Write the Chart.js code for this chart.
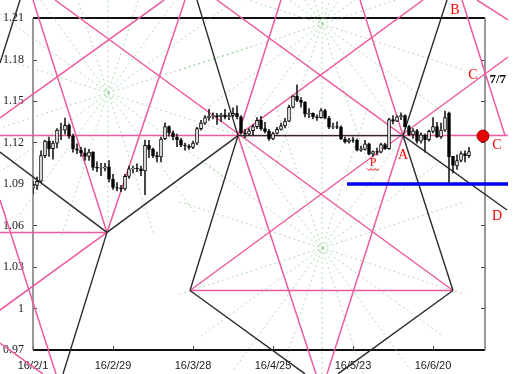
<!DOCTYPE html>
<html>
<head>
<meta charset="utf-8">
<script src="https://cdn.jsdelivr.net/npm/chart.js@4.4.1/dist/chart.umd.min.js"></script>
<style>
  html, body { margin: 0; padding: 0; background: #fff; }
</style>
</head>
<body>
<canvas id="canvas" width="515" height="374"></canvas>
<script>
const canvas = document.getElementById("canvas").getContext("2d");

// x axis = trading day index (16/2/1 = 0)
const tickIdx = [0, 20, 40, 60, 80, 100];
const tickDates = ["16/2/1", "16/2/29", "16/3/28", "16/4/25", "16/5/23", "16/6/20"];
const yTicks = [0.97, 1, 1.03, 1.06, 1.09, 1.12, 1.15, 1.18, 1.21];
const yTickText = ["0.97", "1", "1.03", "1.06", "1.09", "1.12", "1.15", "1.18", "1.21"];

// daily candles
const open = [1.0870, 1.0890, 1.0920, 1.1105, 1.1210, 1.1155, 1.1195, 1.1290, 1.1290, 1.1325,
  1.1245, 1.1155, 1.1145, 1.1125, 1.1100, 1.1130, 1.1020, 1.1015, 1.1015, 1.1025,
  1.0935, 1.0875, 1.0870, 1.0865, 1.0955, 1.1010, 1.1015, 1.1010, 1.0995, 1.1180,
  1.1150, 1.1105, 1.1095, 1.1225, 1.1315, 1.1270, 1.1240, 1.1220, 1.1180, 1.1175,
  1.1165, 1.1195, 1.1300, 1.1340, 1.1380, 1.1390, 1.1395, 1.1385, 1.1400, 1.1385,
  1.1395, 1.1410, 1.1385, 1.1270, 1.1260, 1.1285, 1.1315, 1.1360, 1.1300, 1.1280,
  1.1225, 1.1265, 1.1295, 1.1320, 1.1355, 1.1455, 1.1535, 1.1505, 1.1490, 1.1405,
  1.1410, 1.1385, 1.1380, 1.1430, 1.1375, 1.1310, 1.1315, 1.1310, 1.1225, 1.1205,
  1.1220, 1.1215, 1.1145, 1.1150, 1.1190, 1.1115, 1.1135, 1.1130, 1.1185, 1.1155,
  1.1365, 1.1355, 1.1385, 1.1395, 1.1315, 1.1255, 1.1285, 1.1210, 1.1255, 1.1220,
  1.1280, 1.1315, 1.1240, 1.1290, 1.1410, 1.1100, 1.1030, 1.1070, 1.1120, 1.1105];
const high = [1.0920, 1.0950, 1.1140, 1.1215, 1.1240, 1.1210, 1.1300, 1.1340, 1.1376, 1.1335,
  1.1260, 1.1190, 1.1165, 1.1160, 1.1150, 1.1135, 1.1060, 1.1050, 1.1050, 1.1070,
  1.0970, 1.0910, 1.0890, 1.0970, 1.1030, 1.1030, 1.1045, 1.1030, 1.1218, 1.1215,
  1.1160, 1.1130, 1.1240, 1.1342, 1.1320, 1.1285, 1.1260, 1.1230, 1.1195, 1.1185,
  1.1210, 1.1310, 1.1360, 1.1395, 1.1440, 1.1415, 1.1410, 1.1410, 1.1440, 1.1415,
  1.1450, 1.1465, 1.1395, 1.1295, 1.1300, 1.1330, 1.1380, 1.1390, 1.1345, 1.1295,
  1.1275, 1.1310, 1.1340, 1.1375, 1.1470, 1.1540, 1.1616, 1.1525, 1.1495, 1.1445,
  1.1415, 1.1400, 1.1445, 1.1440, 1.1390, 1.1340, 1.1350, 1.1320, 1.1240, 1.1230,
  1.1240, 1.1225, 1.1175, 1.1215, 1.1195, 1.1140, 1.1160, 1.1195, 1.1195, 1.1375,
  1.1395, 1.1395, 1.1415, 1.1400, 1.1325, 1.1300, 1.1295, 1.1270, 1.1260, 1.1290,
  1.1380, 1.1345, 1.1340, 1.1428, 1.1420, 1.1100, 1.1110, 1.1135, 1.1140, 1.1165];
const low = [1.0830, 1.0860, 1.0910, 1.1090, 1.1100, 1.1080, 1.1160, 1.1220, 1.1260, 1.1230,
  1.1130, 1.1120, 1.1100, 1.1070, 1.1070, 1.1000, 1.0990, 1.0960, 1.0995, 1.0915,
  1.0860, 1.0850, 1.0845, 1.0855, 1.0940, 1.0980, 1.0990, 1.0960, 1.0822, 1.1090,
  1.1090, 1.1060, 1.1060, 1.1220, 1.1245, 1.1220, 1.1170, 1.1170, 1.1145, 1.1150,
  1.1155, 1.1185, 1.1290, 1.1330, 1.1360, 1.1370, 1.1330, 1.1350, 1.1370, 1.1365,
  1.1385, 1.1370, 1.1260, 1.1235, 1.1250, 1.1250, 1.1300, 1.1290, 1.1270, 1.1215,
  1.1220, 1.1260, 1.1290, 1.1305, 1.1350, 1.1450, 1.1495, 1.1455, 1.1385, 1.1380,
  1.1370, 1.1360, 1.1375, 1.1370, 1.1300, 1.1300, 1.1300, 1.1220, 1.1195, 1.1195,
  1.1200, 1.1140, 1.1135, 1.1145, 1.1110, 1.1100, 1.1110, 1.1125, 1.1150, 1.1150,
  1.1335, 1.1350, 1.1365, 1.1310, 1.1250, 1.1230, 1.1195, 1.1195, 1.1130, 1.1210,
  1.1270, 1.1235, 1.1230, 1.1280, 1.0912, 1.0980, 1.1005, 1.1060, 1.1060, 1.1090];
const close = [1.0890, 1.0920, 1.1105, 1.1210, 1.1155, 1.1195, 1.1290, 1.1294, 1.1325, 1.1245,
  1.1155, 1.1145, 1.1125, 1.1100, 1.1130, 1.1020, 1.1015, 1.1019, 1.1025, 1.0935,
  1.0875, 1.0870, 1.0865, 1.0955, 1.1010, 1.1015, 1.1010, 1.0995, 1.1180, 1.1150,
  1.1105, 1.1095, 1.1225, 1.1315, 1.1270, 1.1240, 1.1220, 1.1180, 1.1175, 1.1165,
  1.1195, 1.1300, 1.1340, 1.1380, 1.1390, 1.1395, 1.1385, 1.1400, 1.1385, 1.1395,
  1.1410, 1.1385, 1.1270, 1.1260, 1.1285, 1.1315, 1.1360, 1.1300, 1.1280, 1.1225,
  1.1265, 1.1295, 1.1320, 1.1355, 1.1455, 1.1535, 1.1505, 1.1490, 1.1405, 1.1410,
  1.1385, 1.1380, 1.1430, 1.1375, 1.1310, 1.1315, 1.1310, 1.1225, 1.1205, 1.1220,
  1.1215, 1.1145, 1.1150, 1.1190, 1.1115, 1.1135, 1.1130, 1.1185, 1.1155, 1.1365,
  1.1355, 1.1385, 1.1395, 1.1315, 1.1255, 1.1285, 1.1210, 1.1255, 1.1220, 1.1280,
  1.1315, 1.1240, 1.1290, 1.1380, 1.1095, 1.1035, 1.1070, 1.1120, 1.1105, 1.1135];

// drawn lines, [x1, y1, x2, y2] in (day index, price)
const blackLines = [
  [-8.25, 1.1131, 18.5, 1.055], [18.5, 1.055, 51.25, 1.125], [7.5, 0.9527, 18.5, 1.055],
  [41, 1.223, 51.25, 1.125], [51.25, 1.125, 92.5, 1.125], [39.25, 1.013, 51.25, 1.125],
  [39.25, 1.013, 68, 0.9527], [92.5, 1.125, 103.5, 1.223], [92.5, 1.125, 105, 1.013],
  [92.5, 1.125, 118.5, 1.0712], [76.25, 0.9527, 105, 1.013], [-8.25, 1.1775, -3.25, 1.223],
];
const pinkLines = [
  [-8.25, 1.125, 118.75, 1.125], [-8.25, 1.055, 18.5, 1.055], [39.25, 1.013, 105, 1.013],
  [0, 1.223, 18.5, 1.055], [18.5, 1.055, 38, 1.223], [-8.25, 0.9989, 18.5, 1.055],
  [51.25, 1.125, 97.5, 1.223], [-8.25, 1.1377, 32.75, 1.223], [5.5, 1.223, 105, 1.013],
  [39.25, 1.013, 118.75, 1.1818], [73.5, 0.9527, 92.5, 1.125], [81.75, 1.223, 92.5, 1.125],
  [51.25, 1.125, 62, 1.223], [51.25, 1.125, 70.75, 0.9527], [107.25, 1.223, 118, 1.125],
  [111, 1.223, 118.75, 1.2086], [46, 1.223, 92.5, 1.125], [-8.25, 1.0784, 5.75, 0.9527],
  [-8.25, 0.975, 2.5, 0.9527],
];
const blueLine = [78.5, 1.09, 118.75, 1.09];

// dotted "wheels": centres and spoke half-lengths (days, price)
const starCenters = [[18.75, 1.1558], [72.25, 1.2057], [72.25, 1.0437]];
const starSpokes = [[35.7, 0.0335], [30.3, 0.0638], [22, 0.0877], [11.6, 0.1031]];
const starVerticals = [[18.75, 1.055, 18.75, 1.223], [72.25, 0.9527, 72.25, 1.223]];

const redDot = [112.5, 1.1247];
const notes = [
  ["B", 105.5, 1.2158, "#f00", "14px"],
  ["C", 110, 1.1688, "#f00", "14px"],
  ["7/7", 116.2, 1.1652, "#000", "bold 13px"],
  ["C", 116, 1.1182, "#f00", "14px"],
  ["A", 92.5, 1.111, "#f00", "14px"],
  ["D", 116, 1.0668, "#f00", "14px"],
  ["P", 85, 1.1055, "#f00", "12px"],
];

const days = open.map((v, i) => i);

const seg = (s, color, width, dash) => ({
  type: "line",
  data: [{ x: s[0], y: s[1] }, { x: s[2], y: s[3] }],
  borderColor: color,
  borderWidth: width,
  borderDash: dash || [],
  pointRadius: 0,
  tension: 0,
  fill: false,
  clip: false,
});

const dotted = [];
starCenters.forEach(([cx, cy]) => {
  starSpokes.forEach(([dx, dy]) => {
    dotted.push([cx - dx, cy - dy, cx + dx, cy + dy]);
    dotted.push([cx - dx, cy + dy, cx + dx, cy - dy]);
  });
});
starVerticals.forEach((s) => dotted.push(s));

const framePlugin = {
  id: "frame",
  beforeDatasetsDraw(chart) {
    const { ctx, chartArea: a, scales } = chart;
    ctx.save();
    ctx.lineWidth = 1;
    ctx.strokeStyle = "#444";
    ctx.beginPath();
    yTicks.forEach((v) => {
      const py = Math.round(scales.y.getPixelForValue(v)) + 0.5;
      ctx.moveTo(a.left, py); ctx.lineTo(a.left + 4, py);
      ctx.moveTo(a.right - 4, py); ctx.lineTo(a.right, py);
    });
    tickIdx.forEach((v) => {
      const px = Math.round(scales.x.getPixelForValue(v)) + 0.5;
      ctx.moveTo(px, a.bottom); ctx.lineTo(px, a.bottom - 4);
    });
    ctx.stroke();
    ctx.lineWidth = 2;
    ctx.strokeStyle = "#111";
    ctx.beginPath();
    ctx.moveTo(a.left, a.top); ctx.lineTo(a.right, a.top);
    ctx.moveTo(a.left, a.bottom); ctx.lineTo(a.right, a.bottom);
    ctx.stroke();
    ctx.lineWidth = 1.5;
    ctx.strokeStyle = "#777";
    ctx.beginPath();
    ctx.moveTo(a.left, a.top); ctx.lineTo(a.left, a.bottom);
    ctx.moveTo(a.right, a.top); ctx.lineTo(a.right, a.bottom);
    ctx.stroke();
    ctx.restore();
  },
  afterDatasetsDraw(chart) {
    const { ctx, scales } = chart;
    ctx.save();
    ctx.textAlign = "center";
    ctx.textBaseline = "middle";
    notes.forEach(([t, x, y, color, font]) => {
      const px = scales.x.getPixelForValue(x);
      const py = scales.y.getPixelForValue(y);
      ctx.font = font + " 'Liberation Serif'";
      ctx.fillStyle = color;
      ctx.fillText(t, px, py);
      if (t === "P") {
        // wavy underline
        ctx.strokeStyle = color;
        ctx.lineWidth = 1;
        ctx.beginPath();
        for (let k = 0; k <= 6; k++) {
          const wx = px - 6 + k * 2;
          const wy = py + 7 + (k % 2 ? 1 : -1);
          if (k === 0) ctx.moveTo(wx, wy); else ctx.lineTo(wx, wy);
        }
        ctx.stroke();
      }
    });
    ctx.restore();
  },
};

const datasets = [
  {
    type: "line",
    data: [{ x: redDot[0], y: redDot[1] }],
    showLine: false,
    pointRadius: 6,
    pointBackgroundColor: "#e60000",
    pointBorderColor: "#a00000",
    pointBorderWidth: 1,
    clip: false,
  },
  {
    type: "bar",
    data: days.map((i) => ({ x: i, y: [open[i], close[i]] })),
    backgroundColor: days.map((i) => (close[i] >= open[i] ? "#fff" : "#000")),
    borderColor: "#000",
    borderWidth: 1,
    borderSkipped: false,
    barThickness: 3,
    grouped: false,
  },
  {
    type: "bar",
    data: days.map((i) => ({ x: i, y: [low[i], high[i]] })),
    backgroundColor: "#222",
    borderWidth: 0,
    barThickness: 1,
    grouped: false,
  },
  seg(blueLine, "#0000ee", 3.5),
  ...blackLines.map((s) => seg(s, "#2a2a2a", 1.4)),
  ...pinkLines.map((s) => seg(s, "#ee5aa0", 1.5)),
  ...dotted.map((s) => seg(s, "rgba(130,200,130,0.65)", 1, [2, 3])),
];

const plot = new Chart(canvas, {
  type: "line",
  data: { datasets: datasets },
  options: {
    responsive: false,
    animation: false,
    events: [],
    layout: { padding: { top: 18, right: 30, left: 0, bottom: 0 } },
    plugins: { legend: { display: false }, tooltip: { enabled: false } },
    scales: {
      x: {
        type: "linear",
        min: 0,
        max: 113,
        offset: false,
        grid: { display: false, drawTicks: false },
        border: { display: false },
        afterBuildTicks: (s) => { s.ticks = tickIdx.map((v) => ({ value: v })); },
        afterFit: (s) => { s.height = 24; },
        ticks: {
          autoSkip: false,
          maxRotation: 0,
          padding: 9,
          color: "#222",
          font: { family: "Liberation Sans", size: 11 },
          callback: (v, i) => tickDates[i],
        },
      },
      y: {
        type: "linear",
        min: 0.97,
        max: 1.21,
        grid: { display: false, drawTicks: false },
        border: { display: false },
        afterBuildTicks: (s) => { s.ticks = yTicks.map((v) => ({ value: v })); },
        afterFit: (s) => { s.width = 33; },
        ticks: {
          padding: 9,
          color: "#222",
          font: { family: "Liberation Serif", size: 12 },
          callback: (v, i) => yTickText[i],
        },
      },
    },
  },
  plugins: [framePlugin],
});
</script>
</body>
</html>
